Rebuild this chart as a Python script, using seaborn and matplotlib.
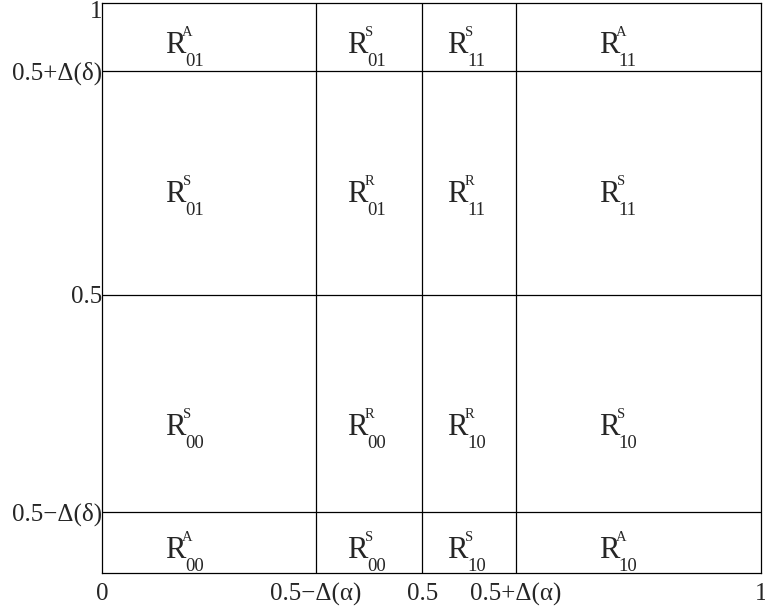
import matplotlib
matplotlib.use("Agg")
import matplotlib.pyplot as plt
import matplotlib.transforms as mtransforms
import seaborn as sns

# ---- data ----
x_bounds = [0.325, 0.486, 0.628]          # 0.5-Δ(α), 0.5, 0.5+Δ(α)
y_bounds = [0.107, 0.488, 0.881]          # 0.5-Δ(δ), 0.5, 0.5+Δ(δ)
x_ticks = [0.0] + x_bounds + [1.0]
x_tick_labels = ["0", "0.5\u2212\u0394(\u03b1)", "0.5", "0.5+\u0394(\u03b1)", "1"]
y_ticks = y_bounds + [1.0]
y_tick_labels = ["0.5\u2212\u0394(\u03b4)", "0.5", "0.5+\u0394(\u03b4)", "1"]

# region labels, rows from top to bottom
region_types = [["A", "S", "S", "A"],
                ["S", "R", "R", "S"],
                ["S", "R", "R", "S"],
                ["A", "S", "S", "A"]]
region_index = [["01", "01", "11", "11"],
                ["01", "01", "11", "11"],
                ["00", "00", "10", "10"],
                ["00", "00", "10", "10"]]
label_x = [0.111, 0.387, 0.539, 0.769]
label_y = [0.912, 0.651, 0.242, 0.026]

# ---- style ----
sns.set_theme(style="white")
plt.rcParams["font.family"] = ["Liberation Serif", "DejaVu Serif"]

fig = plt.figure(figsize=(7.65, 6.13), dpi=100)
ax = fig.add_axes([102 / 765, 1 - 573 / 613, 659 / 765, 570 / 613])
ax.set_xlim(0, 1)
ax.set_ylim(0, 1)

for s in ax.spines.values():
    s.set_visible(True)
    s.set_color("black")
    s.set_linewidth(0.9)

for xb in x_bounds:
    ax.axvline(xb, color="black", lw=0.9)
for yb in y_bounds:
    ax.axhline(yb, color="black", lw=0.9)

ax.set_xticks(x_ticks)
ax.set_xticklabels(x_tick_labels, fontsize=18)
ax.set_yticks(y_ticks)
ax.set_yticklabels(y_tick_labels, fontsize=18)
ax.tick_params(axis="both", length=0)
ax.tick_params(axis="x", pad=7)
ax.tick_params(axis="y", pad=0)

# nudge the top "1" label down a little so it is not cut at the edge
top_lab = ax.get_yticklabels()[-1]
top_lab.set_transform(top_lab.get_transform() +
                      mtransforms.ScaledTranslation(0, -5 / 72, fig.dpi_scale_trans))

for r, (types, idxs) in enumerate(zip(region_types, region_index)):
    for c, (t, i) in enumerate(zip(types, idxs)):
        px, py = label_x[c], label_y[r]
        ax.text(px, py, "R", fontsize=22, ha="center", va="baseline")
        ax.annotate(i, (px, py), xytext=(7.2, -9.5), textcoords="offset points",
                    fontsize=13.5, ha="left", va="baseline")
        ax.annotate(t, (px, py), xytext=(8.8, 12.5), textcoords="offset points",
                    fontsize=10.5, ha="center", va="baseline")

fig.savefig("out.png", dpi=100)
